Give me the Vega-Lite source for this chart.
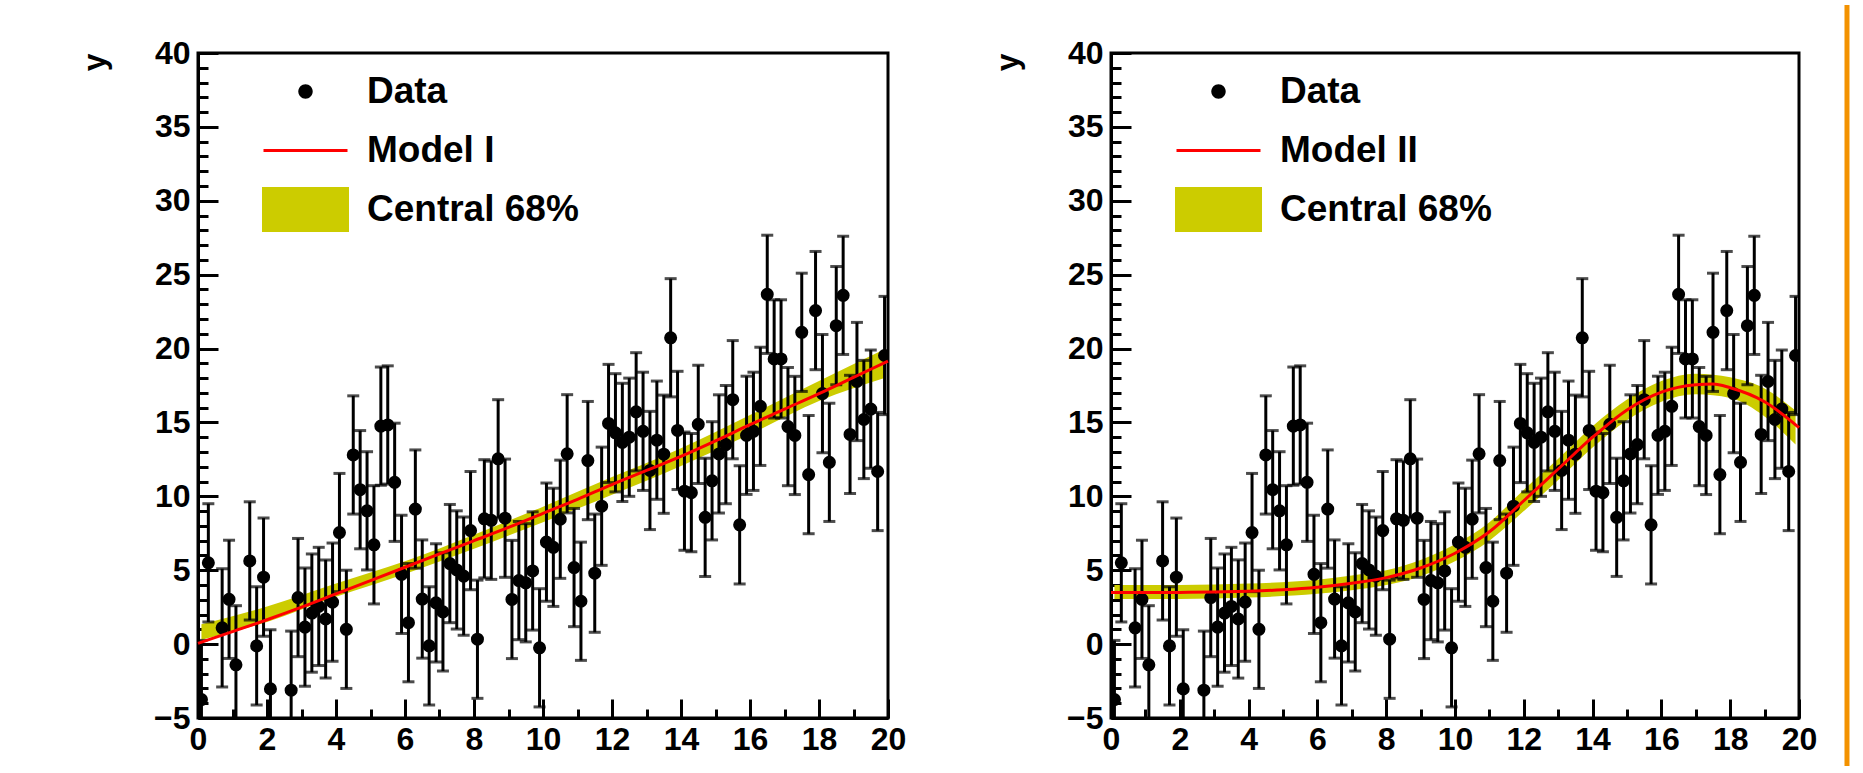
{
  "$schema": "https://vega.github.io/schema/vega-lite/v6.json",
  "padding": {"left": 76, "top": 0, "right": 0, "bottom": 0},
  "background": "white",
  "config": {
    "view": {"stroke": "black", "strokeWidth": 3},
    "axis": {
      "domainColor": "black", "domainWidth": 3, "tickColor": "black", "tickWidth": 3, "grid": false,
      "labelFont": "Liberation Sans", "labelFontWeight": "bold", "labelFontSize": 32, "labelColor": "black",
      "titleFont": "Liberation Sans", "titleFontWeight": "bold", "titleFontSize": 32, "titleColor": "black",
      "labelOverlap": false, "labelFlush": false
    }
  },
  "datasets": {
    "pts": [
      {"x":0.1,"y":-3.75,"e":4},{"x":0.3,"y":5.5,"e":4},{"x":0.7,"y":1.1,"e":4},{"x":0.9,"y":3.03,"e":4},{"x":1.1,"y":-1.4,"e":4},
      {"x":1.5,"y":5.63,"e":4},{"x":1.7,"y":-0.12,"e":4},{"x":1.9,"y":4.53,"e":4},{"x":2.1,"y":-3.03,"e":4},{"x":2.7,"y":-3.12,"e":4},
      {"x":2.9,"y":3.15,"e":4},{"x":3.1,"y":1.15,"e":4},{"x":3.3,"y":2.1,"e":4},{"x":3.5,"y":2.55,"e":4},{"x":3.7,"y":1.7,"e":4},
      {"x":3.9,"y":2.84,"e":4},{"x":4.1,"y":7.55,"e":4},{"x":4.3,"y":1.0,"e":4},{"x":4.5,"y":12.8,"e":4},{"x":4.7,"y":10.45,"e":4},
      {"x":4.9,"y":9.02,"e":4},{"x":5.1,"y":6.72,"e":4},{"x":5.3,"y":14.75,"e":4},{"x":5.5,"y":14.83,"e":4},{"x":5.7,"y":10.95,"e":4},
      {"x":5.9,"y":4.72,"e":4},{"x":6.1,"y":1.45,"e":4},{"x":6.3,"y":9.14,"e":4},{"x":6.5,"y":3.05,"e":4},{"x":6.7,"y":-0.12,"e":4},
      {"x":6.9,"y":2.79,"e":4},{"x":7.1,"y":2.18,"e":4},{"x":7.3,"y":5.45,"e":4},{"x":7.5,"y":5.02,"e":4},{"x":7.7,"y":4.6,"e":4},
      {"x":7.9,"y":7.68,"e":4},{"x":8.1,"y":0.33,"e":4},{"x":8.3,"y":8.48,"e":4},{"x":8.5,"y":8.38,"e":4},{"x":8.7,"y":12.54,"e":4},
      {"x":8.9,"y":8.52,"e":4},{"x":9.1,"y":3.02,"e":4},{"x":9.3,"y":4.3,"e":4},{"x":9.5,"y":4.15,"e":4},{"x":9.7,"y":4.95,"e":4},
      {"x":9.9,"y":-0.25,"e":4},{"x":10.1,"y":6.9,"e":4},{"x":10.3,"y":6.55,"e":4},{"x":10.5,"y":8.45,"e":4},{"x":10.7,"y":12.88,"e":4},
      {"x":10.9,"y":5.18,"e":4},{"x":11.1,"y":2.9,"e":4},{"x":11.3,"y":12.42,"e":4},{"x":11.5,"y":4.8,"e":4},{"x":11.7,"y":9.33,"e":4},
      {"x":11.9,"y":14.93,"e":4},{"x":12.1,"y":14.3,"e":4},{"x":12.3,"y":13.65,"e":4},{"x":12.5,"y":14.0,"e":4},{"x":12.7,"y":15.72,"e":4},
      {"x":12.9,"y":14.4,"e":4},{"x":13.1,"y":11.75,"e":4},{"x":13.3,"y":13.8,"e":4},{"x":13.5,"y":12.85,"e":4},{"x":13.7,"y":20.73,"e":4},
      {"x":13.9,"y":14.46,"e":4},{"x":14.1,"y":10.35,"e":4},{"x":14.3,"y":10.25,"e":4},{"x":14.5,"y":14.87,"e":4},{"x":14.7,"y":8.58,"e":4},
      {"x":14.9,"y":11.05,"e":4},{"x":15.1,"y":12.87,"e":4},{"x":15.3,"y":13.5,"e":4},{"x":15.5,"y":16.54,"e":4},{"x":15.7,"y":8.07,"e":4},
      {"x":15.9,"y":14.13,"e":4},{"x":16.1,"y":14.4,"e":4},{"x":16.3,"y":16.09,"e":4},{"x":16.5,"y":23.67,"e":4},{"x":16.7,"y":19.3,"e":4},
      {"x":16.9,"y":19.3,"e":4},{"x":17.1,"y":14.72,"e":4},{"x":17.3,"y":14.12,"e":4},{"x":17.5,"y":21.1,"e":4},{"x":17.7,"y":11.47,"e":4},
      {"x":17.9,"y":22.57,"e":4},{"x":18.1,"y":16.95,"e":4},{"x":18.3,"y":12.3,"e":4},{"x":18.5,"y":21.55,"e":4},{"x":18.7,"y":23.6,"e":4},
      {"x":18.9,"y":14.19,"e":4},{"x":19.1,"y":17.77,"e":4},{"x":19.3,"y":15.2,"e":4},{"x":19.5,"y":15.9,"e":4},{"x":19.7,"y":11.68,"e":4},
      {"x":19.9,"y":19.53,"e":4}
    ],
    "m1": [
      {"x":0,"y":0.05},{"x":1,"y":0.85},{"x":2,"y":1.65},{"x":3,"y":2.5},{"x":4,"y":3.4},{"x":5,"y":4.3},{"x":6,"y":5.2},
      {"x":7,"y":6.1},{"x":8,"y":7.0},{"x":9,"y":7.9},{"x":10,"y":8.85},{"x":11,"y":9.8},{"x":12,"y":10.8},{"x":13,"y":11.75},
      {"x":14,"y":12.7},{"x":15,"y":13.75},{"x":16,"y":14.85},{"x":17,"y":15.9},{"x":18,"y":16.95},{"x":19,"y":18.05},{"x":20,"y":19.15}
    ],
    "b1": [
      {"x":0.1,"lo":0.3,"hi":1.35},{"x":2,"lo":1.5,"hi":2.55},{"x":4,"lo":3.2,"hi":4.1},{"x":6,"lo":4.75,"hi":5.6},
      {"x":8,"lo":6.45,"hi":7.4},{"x":10,"lo":8.25,"hi":9.3},{"x":12,"lo":10.1,"hi":11.3},{"x":14,"lo":12.05,"hi":13.25},
      {"x":16,"lo":14.2,"hi":15.5},{"x":18,"lo":16.45,"hi":17.8},{"x":19.9,"lo":18.0,"hi":19.95}
    ],
    "m2": [
      {"x":0,"y":3.5},{"x":1,"y":3.5},{"x":2,"y":3.5},{"x":3,"y":3.52},{"x":4,"y":3.58},{"x":5,"y":3.68},{"x":6,"y":3.85},
      {"x":7,"y":4.12},{"x":8,"y":4.5},{"x":9,"y":5.15},{"x":10,"y":6.15},{"x":11,"y":7.6},{"x":12,"y":9.7},{"x":13,"y":11.85},
      {"x":14,"y":14.0},{"x":15,"y":15.85},{"x":16,"y":17.05},{"x":17,"y":17.55},{"x":17.5,"y":17.6},{"x":18,"y":17.35},
      {"x":19,"y":16.4},{"x":20,"y":14.65}
    ],
    "b2": [
      {"x":0.1,"lo":3.05,"hi":4.0},{"x":2,"lo":3.05,"hi":4.0},{"x":4,"lo":3.15,"hi":4.1},{"x":6,"lo":3.4,"hi":4.35},
      {"x":7,"lo":3.65,"hi":4.65},{"x":8,"lo":4.0,"hi":5.0},{"x":9,"lo":4.6,"hi":5.7},{"x":10,"lo":5.6,"hi":6.75},
      {"x":11,"lo":7.0,"hi":8.25},{"x":12,"lo":9.0,"hi":10.45},{"x":13,"lo":11.1,"hi":12.55},{"x":14,"lo":13.3,"hi":14.75},
      {"x":15,"lo":15.15,"hi":16.55},{"x":16,"lo":16.4,"hi":17.8},{"x":17,"lo":16.9,"hi":18.3},{"x":18,"lo":16.65,"hi":18.05},
      {"x":19,"lo":15.4,"hi":17.3},{"x":19.9,"lo":13.5,"hi":15.8}
    ]
  },
  "hconcat": [
    {
      "width": 690,
      "height": 665,
      "layer": [
        {
          "data": {"name": "b1"},
          "mark": {"type": "area", "interpolate": "monotone", "opacity": 1},
          "encoding": {
            "x": {"field": "x", "type": "quantitative", "scale": {"domain": [0, 20], "nice": false, "zero": false},
              "axis": {"title": null, "tickCount": 40, "tickSize": -9, "labelPadding": 15, "format": "d",
                "labelExpr": "abs(datum.value/2 - round(datum.value/2)) < 0.001 ? datum.label : ''",
                "encoding": {"ticks": {"y2": {"value": {"signal": "abs(datum.value/2 - round(datum.value/2)) < 0.001 ? -19 : -9"}}}}}},
            "y": {"field": "lo", "type": "quantitative", "scale": {"domain": [-5, 40], "nice": false, "zero": false},
              "axis": {"title": "y", "tickCount": 45, "tickSize": -10, "labelPadding": 18, "format": "d",
                "labelExpr": "abs(datum.value/5 - round(datum.value/5)) < 0.001 ? datum.label : ''",
                "encoding": {"ticks": {"x2": {"value": {"signal": "abs(datum.value/5 - round(datum.value/5)) < 0.001 ? 20 : 10"}}}},
                "titleX": -104, "titleY": 0, "titleAlign": "right", "titleBaseline": "middle", "titleAngle": 270}},
            "y2": {"field": "hi"},
            "color": {"datum": "Central 68%",
              "scale": {"domain": ["Data", "Model I", "Central 68%"], "range": ["black", "red", "#cccc00"]},
              "legend": {"orient": "none", "legendX": 77.5, "legendY": 8.5, "title": null, "padding": 0, "rowPadding": 11,
                "symbolSize": 3600, "symbolStrokeWidth": 0, "labelOffset": 31.5,
                "labelFont": "Liberation Sans", "labelFontSize": 37, "labelFontWeight": "bold", "labelColor": "black", "labelLimit": 500,
                "encoding": {"symbols": {
                  "shape": {"value": {"signal": "datum.value === 'Data' ? 'M-0.24,0A0.24,0.24,0,1,0,0.24,0A0.24,0.24,0,1,0,-0.24,0Z' : datum.value === 'Central 68%' ? 'M-1.45,-0.75H1.45V0.75H-1.45Z' : 'M-1.4,-0.05H1.4V0.05H-1.4Z'"}},
                  "fill": {"value": {"signal": "datum.value === 'Data' ? 'black' : datum.value === 'Central 68%' ? '#cccc00' : 'red'"}},
                  "stroke": {"value": "transparent"},
                  "strokeWidth": {"value": 0},
                  "opacity": {"value": 1},
                  "fillOpacity": {"value": 1}
                }}}}
          }
        },
        {
          "data": {"name": "pts"},
          "mark": {"type": "errorbar", "ticks": true, "size": 12, "thickness": 3, "color": "black", "clip": true},
          "encoding": {
            "x": {"field": "x", "type": "quantitative"},
            "y": {"field": "y", "type": "quantitative"},
            "yError": {"field": "e"}
          }
        },
        {
          "data": {"name": "pts"},
          "mark": {"type": "circle", "size": 170, "opacity": 1, "clip": true},
          "encoding": {
            "x": {"field": "x", "type": "quantitative"},
            "y": {"field": "y", "type": "quantitative"},
            "color": {"datum": "Data"}
          }
        },
        {
          "data": {"name": "m1"},
          "mark": {"type": "line", "strokeWidth": 3, "interpolate": "monotone"},
          "encoding": {
            "x": {"field": "x", "type": "quantitative"},
            "y": {"field": "y", "type": "quantitative"},
            "color": {"datum": "Model I"}
          }
        }
      ]
    },
    {
      "width": 688,
      "height": 665,
      "layer": [
        {
          "data": {"name": "b2"},
          "mark": {"type": "area", "interpolate": "monotone", "opacity": 1},
          "encoding": {
            "x": {"field": "x", "type": "quantitative", "scale": {"domain": [0, 20], "nice": false, "zero": false},
              "axis": {"title": null, "tickCount": 40, "tickSize": -9, "labelPadding": 15, "format": "d",
                "labelExpr": "abs(datum.value/2 - round(datum.value/2)) < 0.001 ? datum.label : ''",
                "encoding": {"ticks": {"y2": {"value": {"signal": "abs(datum.value/2 - round(datum.value/2)) < 0.001 ? -19 : -9"}}}}}},
            "y": {"field": "lo", "type": "quantitative", "scale": {"domain": [-5, 40], "nice": false, "zero": false},
              "axis": {"title": "y", "tickCount": 45, "tickSize": -10, "labelPadding": 18, "format": "d",
                "labelExpr": "abs(datum.value/5 - round(datum.value/5)) < 0.001 ? datum.label : ''",
                "encoding": {"ticks": {"x2": {"value": {"signal": "abs(datum.value/5 - round(datum.value/5)) < 0.001 ? 20 : 10"}}}},
                "titleX": -104, "titleY": 0, "titleAlign": "right", "titleBaseline": "middle", "titleAngle": 270}},
            "y2": {"field": "hi"},
            "color": {"datum": "Central 68%",
              "scale": {"domain": ["Data", "Model II", "Central 68%"], "range": ["black", "red", "#cccc00"]},
              "legend": {"orient": "none", "legendX": 77.5, "legendY": 8.5, "title": null, "padding": 0, "rowPadding": 11,
                "symbolSize": 3600, "symbolStrokeWidth": 0, "labelOffset": 31.5,
                "labelFont": "Liberation Sans", "labelFontSize": 37, "labelFontWeight": "bold", "labelColor": "black", "labelLimit": 500,
                "encoding": {"symbols": {
                  "shape": {"value": {"signal": "datum.value === 'Data' ? 'M-0.24,0A0.24,0.24,0,1,0,0.24,0A0.24,0.24,0,1,0,-0.24,0Z' : datum.value === 'Central 68%' ? 'M-1.45,-0.75H1.45V0.75H-1.45Z' : 'M-1.4,-0.05H1.4V0.05H-1.4Z'"}},
                  "fill": {"value": {"signal": "datum.value === 'Data' ? 'black' : datum.value === 'Central 68%' ? '#cccc00' : 'red'"}},
                  "stroke": {"value": "transparent"},
                  "strokeWidth": {"value": 0},
                  "opacity": {"value": 1},
                  "fillOpacity": {"value": 1}
                }}}}
          }
        },
        {
          "data": {"name": "pts"},
          "mark": {"type": "errorbar", "ticks": true, "size": 12, "thickness": 3, "color": "black", "clip": true},
          "encoding": {
            "x": {"field": "x", "type": "quantitative"},
            "y": {"field": "y", "type": "quantitative"},
            "yError": {"field": "e"}
          }
        },
        {
          "data": {"name": "pts"},
          "mark": {"type": "circle", "size": 170, "opacity": 1, "clip": true},
          "encoding": {
            "x": {"field": "x", "type": "quantitative"},
            "y": {"field": "y", "type": "quantitative"},
            "color": {"datum": "Data"}
          }
        },
        {
          "data": {"name": "m2"},
          "mark": {"type": "line", "strokeWidth": 3, "interpolate": "monotone"},
          "encoding": {
            "x": {"field": "x", "type": "quantitative"},
            "y": {"field": "y", "type": "quantitative"},
            "color": {"datum": "Model II"}
          }
        },
        {
          "data": {"values": [{}]},
          "mark": {"type": "rule", "color": "#f39200", "strokeWidth": 5},
          "encoding": {
            "x": {"datum": 21.395, "type": "quantitative"},
            "y": {"datum": 43.25, "type": "quantitative"},
            "y2": {"datum": -8.25}
          }
        }
      ]
    }
  ],
  "spacing": 223,
  "bounds": "flush",
  "resolve": {"scale": {"color": "independent"}, "legend": {"color": "independent"}}
}
